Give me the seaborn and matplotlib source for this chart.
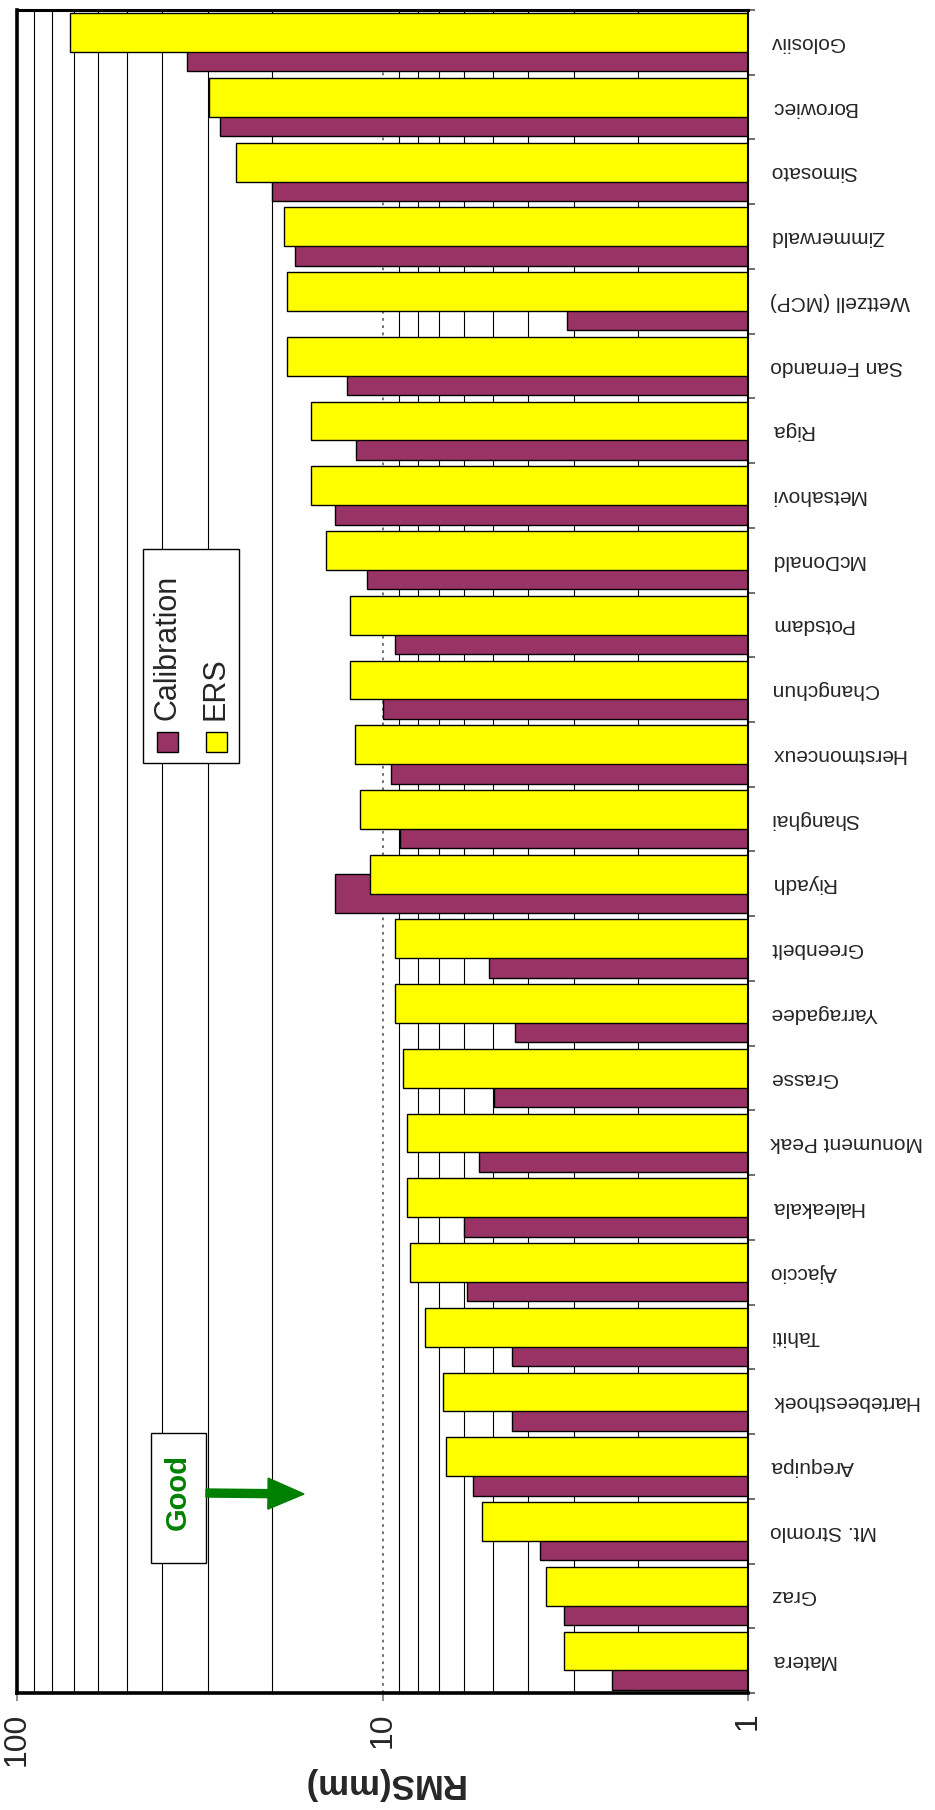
import numpy as np
import matplotlib
matplotlib.use("Agg")
import matplotlib.pyplot as plt
from matplotlib.patches import Rectangle, FancyArrow
from matplotlib.ticker import FixedLocator, LogLocator, NullFormatter
from matplotlib.transforms import Affine2D
import seaborn as sns

# SLR stations, listed from the top of the chart downwards
stations = ["Golosiiv", "Borowiec", "Simosato", "Zimmerwald", "Wettzell (MCP)",
            "San Fernando", "Riga", "Metsahovi", "McDonald", "Potsdam",
            "Changchun", "Herstmonceux", "Shanghai", "Riyadh", "Greenbelt",
            "Yarragadee", "Grasse", "Monument Peak", "Haleakala", "Ajaccio",
            "Tahiti", "Hartebeesthoek", "Arequipa", "Mt. Stromlo", "Graz", "Matera"]

# RMS (mm) per station
calibration = [34.2, 27.8, 20.1, 17.3, 3.13, 12.5, 11.8, 13.5, 11.0, 9.27,
               10.0, 9.45, 8.94, 13.5, 5.12, 4.33, 4.95, 5.44, 5.98, 5.87,
               4.41, 4.41, 5.65, 3.71, 3.19, 2.35]
ers = [71.7, 29.9, 25.2, 18.6, 18.3, 18.3, 15.7, 15.7, 14.3, 12.3,
       12.3, 11.9, 11.5, 10.8, 9.27, 9.27, 8.77, 8.59, 8.59, 8.42,
       7.66, 6.83, 6.71, 5.33, 3.57, 3.19]

series_names = ["Calibration", "ERS"]
series_colors = ["#993366", "#FFFF00"]
value_ticks = [1, 10, 100]
value_label = "RMS(mm)"
note_text = "Good"

sns.set_style("white")
plt.rcParams["font.family"] = ["Liberation Sans", "DejaVu Sans"]

W, H = 935, 1810
fig = plt.figure(figsize=(W / 100, H / 100), dpi=100, facecolor="white")
# pixel transform with origin at the top-left corner of the image
PX = Affine2D().scale(1, -1).translate(0, H).scale(1 / W, 1 / H) + fig.transFigure

ax = fig.add_axes([17 / W, 1 - 1693 / H, (748 - 17) / W, (1693 - 10) / H])

n = len(stations)
bar_h = 0.6
shift = 0.15

# Calibration bars sit lower in each band, ERS bars overlap them from above
for vals, color, off in [(calibration, series_colors[0], shift),
                         (ers, series_colors[1], -shift)]:
    start = len(ax.patches)
    sns.barplot(x=vals, y=stations, orient="h", color=color, saturation=1,
                width=bar_h, edgecolor="black", linewidth=1.0, ax=ax)
    for p in ax.patches[start:]:
        p.set_y(p.get_y() + off)

ax.set_xscale("log")
ax.set_xlim(100, 1)
ax.set_ylim(n - 0.5, -0.5)

# grid: solid minor lines, dotted decade lines
ax.set_axisbelow(True)
ax.xaxis.set_minor_locator(LogLocator(base=10, subs=np.arange(2, 10)))
ax.xaxis.set_minor_formatter(NullFormatter())
ax.xaxis.grid(True, which="minor", color="black", linewidth=0.8)
ax.xaxis.grid(True, which="major", color="#666666", linewidth=1.3,
              linestyle=(0, (1.5, 2.5)))
ax.yaxis.grid(False)

ax.set_xticks(value_ticks)
ax.set_xticklabels([str(v) for v in value_ticks])
ax.tick_params(axis="x", which="major", bottom=True, length=6, width=1.2,
               color="#777777", direction="out", labelrotation=90,
               labelsize=23, pad=8)
ax.tick_params(axis="x", which="minor", length=0)

ax.yaxis.tick_right()
ax.set_yticks(range(n))
ax.set_yticklabels(stations, rotation=180, ha="left", va="center", fontsize=15)
ax.yaxis.set_minor_locator(FixedLocator(np.arange(-0.5, n, 1.0)))
ax.tick_params(axis="y", which="major", length=0, pad=16)
ax.tick_params(axis="y", which="minor", right=True, left=False, length=5,
               width=1.2, color="#555555", direction="out")
ax.set_ylabel("")

ax.set_xlabel(value_label, rotation=180, fontsize=25, fontweight="bold",
              va="center")
ax.xaxis.set_label_coords(0.5, -(1783 - 1693) / (1693 - 10))

for side, lw in [("bottom", 2.6), ("left", 2.6), ("top", 2.2), ("right", 1.5)]:
    ax.spines[side].set_visible(True)
    ax.spines[side].set_color("black")
    ax.spines[side].set_linewidth(lw)

# legend box with vertical entries
fig.add_artist(Rectangle((143, 549), 96, 214, transform=PX, facecolor="white",
                         edgecolor="black", linewidth=1.0, zorder=3))
for name, color, x in zip(series_names, series_colors, [167.5, 216]):
    fig.text(x, 720, name, transform=PX, rotation=90, ha="center", va="bottom",
             fontsize=22, zorder=4)
    fig.add_artist(Rectangle((x - 10.5, 732), 21, 20, transform=PX,
                             facecolor=color, edgecolor="black", linewidth=1.0,
                             zorder=4))

# "Good" note with arrow
fig.add_artist(Rectangle((151, 1433), 55, 130, transform=PX, facecolor="white",
                         edgecolor="black", linewidth=1.0, zorder=3))
fig.text(178, 1492, note_text, transform=PX, rotation=90, ha="center",
         va="center", fontsize=21, fontweight="bold", color="#008000", zorder=4)
fig.add_artist(FancyArrow(206, 1493, 98, 1, width=8, head_width=31,
                          head_length=36, length_includes_head=True,
                          color="#008000", transform=PX, zorder=4))

fig.savefig("out.png", dpi=100, facecolor="white")
